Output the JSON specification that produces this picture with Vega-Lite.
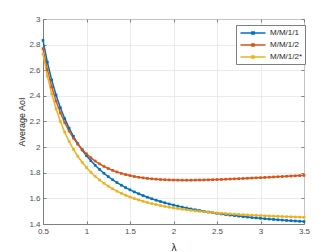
{
  "$schema": "https://vega.github.io/schema/vega-lite/v6.json",
  "width": 261,
  "height": 205,
  "autosize": {"type": "none"},
  "padding": {"left": 43, "top": 19, "right": 32, "bottom": 28},
  "background": "white",
  "config": {
    "font": "Liberation Sans",
    "view": {"stroke": "#7f7f7f", "strokeWidth": 1},
    "axis": {
      "labelFont": "Liberation Sans",
      "titleFont": "Liberation Sans",
      "labelFontSize": 8,
      "labelColor": "#4d4d4d",
      "titleColor": "#262626",
      "titleFontWeight": "normal",
      "titleFontSize": 9,
      "domainColor": "#7f7f7f",
      "tickColor": "#7f7f7f",
      "gridColor": "#e3e3e3",
      "gridWidth": 0.7,
      "tickSize": -3,
      "labelPadding": 6,
      "labelFlush": false
    },
    "legend": {
      "labelFont": "Liberation Sans",
      "labelFontSize": 8,
      "labelColor": "#262626"
    }
  },
  "data": {
    "values": [
      {"l": 0.5, "M/M/1/1": 2.8333, "M/M/1/2": 2.7692, "M/M/1/2*": 2.7276},
      {"l": 0.55, "M/M/1/1": 2.6637, "M/M/1/2": 2.6043, "M/M/1/2*": 2.5563},
      {"l": 0.6, "M/M/1/1": 2.5238, "M/M/1/2": 2.4701, "M/M/1/2*": 2.4157},
      {"l": 0.65, "M/M/1/1": 2.4067, "M/M/1/2": 2.3596, "M/M/1/2*": 2.2986},
      {"l": 0.7, "M/M/1/1": 2.3074, "M/M/1/2": 2.2676, "M/M/1/2*": 2.2001},
      {"l": 0.75, "M/M/1/1": 2.2222, "M/M/1/2": 2.1905, "M/M/1/2*": 2.1164},
      {"l": 0.8, "M/M/1/1": 2.1486, "M/M/1/2": 2.1253, "M/M/1/2*": 2.0447},
      {"l": 0.85, "M/M/1/1": 2.0843, "M/M/1/2": 2.0699, "M/M/1/2*": 1.9827},
      {"l": 0.9, "M/M/1/1": 2.0278, "M/M/1/2": 2.0227, "M/M/1/2*": 1.9289},
      {"l": 0.95, "M/M/1/1": 1.9778, "M/M/1/2": 1.9822, "M/M/1/2*": 1.8820},
      {"l": 1.0, "M/M/1/1": 1.9333, "M/M/1/2": 1.9474, "M/M/1/2*": 1.8407},
      {"l": 1.05, "M/M/1/1": 1.8936, "M/M/1/2": 1.9174, "M/M/1/2*": 1.8043},
      {"l": 1.1, "M/M/1/1": 1.8578, "M/M/1/2": 1.8915, "M/M/1/2*": 1.7722},
      {"l": 1.15, "M/M/1/1": 1.8255, "M/M/1/2": 1.8691, "M/M/1/2*": 1.7435},
      {"l": 1.2, "M/M/1/1": 1.7963, "M/M/1/2": 1.8497, "M/M/1/2*": 1.7180},
      {"l": 1.25, "M/M/1/1": 1.7697, "M/M/1/2": 1.8330, "M/M/1/2*": 1.6952},
      {"l": 1.3, "M/M/1/1": 1.7454, "M/M/1/2": 1.8185, "M/M/1/2*": 1.6748},
      {"l": 1.35, "M/M/1/1": 1.7232, "M/M/1/2": 1.8059, "M/M/1/2*": 1.6564},
      {"l": 1.4, "M/M/1/1": 1.7028, "M/M/1/2": 1.7951, "M/M/1/2*": 1.6397},
      {"l": 1.45, "M/M/1/1": 1.6840, "M/M/1/2": 1.7858, "M/M/1/2*": 1.6247},
      {"l": 1.5, "M/M/1/1": 1.6667, "M/M/1/2": 1.7778, "M/M/1/2*": 1.6111},
      {"l": 1.55, "M/M/1/1": 1.6506, "M/M/1/2": 1.7709, "M/M/1/2*": 1.5988},
      {"l": 1.6, "M/M/1/1": 1.6358, "M/M/1/2": 1.7651, "M/M/1/2*": 1.5875},
      {"l": 1.65, "M/M/1/1": 1.6219, "M/M/1/2": 1.7601, "M/M/1/2*": 1.5772},
      {"l": 1.7, "M/M/1/1": 1.6091, "M/M/1/2": 1.7560, "M/M/1/2*": 1.5678},
      {"l": 1.75, "M/M/1/1": 1.5971, "M/M/1/2": 1.7525, "M/M/1/2*": 1.5592},
      {"l": 1.8, "M/M/1/1": 1.5859, "M/M/1/2": 1.7497, "M/M/1/2*": 1.5514},
      {"l": 1.85, "M/M/1/1": 1.5754, "M/M/1/2": 1.7474, "M/M/1/2*": 1.5441},
      {"l": 1.9, "M/M/1/1": 1.5655, "M/M/1/2": 1.7456, "M/M/1/2*": 1.5374},
      {"l": 1.95, "M/M/1/1": 1.5563, "M/M/1/2": 1.7442, "M/M/1/2*": 1.5313},
      {"l": 2.0, "M/M/1/1": 1.5476, "M/M/1/2": 1.7432, "M/M/1/2*": 1.5256},
      {"l": 2.05, "M/M/1/1": 1.5395, "M/M/1/2": 1.7426, "M/M/1/2*": 1.5203},
      {"l": 2.1, "M/M/1/1": 1.5317, "M/M/1/2": 1.7423, "M/M/1/2*": 1.5154},
      {"l": 2.15, "M/M/1/1": 1.5245, "M/M/1/2": 1.7422, "M/M/1/2*": 1.5109},
      {"l": 2.2, "M/M/1/1": 1.5176, "M/M/1/2": 1.7423, "M/M/1/2*": 1.5066},
      {"l": 2.25, "M/M/1/1": 1.5111, "M/M/1/2": 1.7427, "M/M/1/2*": 1.5027},
      {"l": 2.3, "M/M/1/1": 1.5050, "M/M/1/2": 1.7433, "M/M/1/2*": 1.4990},
      {"l": 2.35, "M/M/1/1": 1.4991, "M/M/1/2": 1.7440, "M/M/1/2*": 1.4956},
      {"l": 2.4, "M/M/1/1": 1.4936, "M/M/1/2": 1.7448, "M/M/1/2*": 1.4924},
      {"l": 2.45, "M/M/1/1": 1.4883, "M/M/1/2": 1.7458, "M/M/1/2*": 1.4894},
      {"l": 2.5, "M/M/1/1": 1.4833, "M/M/1/2": 1.7469, "M/M/1/2*": 1.4865},
      {"l": 2.55, "M/M/1/1": 1.4786, "M/M/1/2": 1.7482, "M/M/1/2*": 1.4839},
      {"l": 2.6, "M/M/1/1": 1.4741, "M/M/1/2": 1.7495, "M/M/1/2*": 1.4814},
      {"l": 2.65, "M/M/1/1": 1.4697, "M/M/1/2": 1.7508, "M/M/1/2*": 1.4790},
      {"l": 2.7, "M/M/1/1": 1.4656, "M/M/1/2": 1.7523, "M/M/1/2*": 1.4768},
      {"l": 2.75, "M/M/1/1": 1.4617, "M/M/1/2": 1.7538, "M/M/1/2*": 1.4747},
      {"l": 2.8, "M/M/1/1": 1.4579, "M/M/1/2": 1.7553, "M/M/1/2*": 1.4727},
      {"l": 2.85, "M/M/1/1": 1.4543, "M/M/1/2": 1.7569, "M/M/1/2*": 1.4708},
      {"l": 2.9, "M/M/1/1": 1.4509, "M/M/1/2": 1.7586, "M/M/1/2*": 1.4690},
      {"l": 2.95, "M/M/1/1": 1.4476, "M/M/1/2": 1.7602, "M/M/1/2*": 1.4672},
      {"l": 3.0, "M/M/1/1": 1.4444, "M/M/1/2": 1.7619, "M/M/1/2*": 1.4656},
      {"l": 3.05, "M/M/1/1": 1.4414, "M/M/1/2": 1.7636, "M/M/1/2*": 1.4641},
      {"l": 3.1, "M/M/1/1": 1.4385, "M/M/1/2": 1.7653, "M/M/1/2*": 1.4626},
      {"l": 3.15, "M/M/1/1": 1.4357, "M/M/1/2": 1.7671, "M/M/1/2*": 1.4612},
      {"l": 3.2, "M/M/1/1": 1.4331, "M/M/1/2": 1.7688, "M/M/1/2*": 1.4598},
      {"l": 3.25, "M/M/1/1": 1.4305, "M/M/1/2": 1.7706, "M/M/1/2*": 1.4585},
      {"l": 3.3, "M/M/1/1": 1.4280, "M/M/1/2": 1.7724, "M/M/1/2*": 1.4573},
      {"l": 3.35, "M/M/1/1": 1.4257, "M/M/1/2": 1.7741, "M/M/1/2*": 1.4561},
      {"l": 3.4, "M/M/1/1": 1.4234, "M/M/1/2": 1.7759, "M/M/1/2*": 1.4549},
      {"l": 3.45, "M/M/1/1": 1.4212, "M/M/1/2": 1.7776, "M/M/1/2*": 1.4538},
      {"l": 3.5, "M/M/1/1": 1.4190, "M/M/1/2": 1.7794, "M/M/1/2*": 1.4527}
    ]
  },
  "transform": [
    {"fold": ["M/M/1/1", "M/M/1/2", "M/M/1/2*"], "as": ["series", "aoi"]}
  ],
  "layer": [
    {
      "mark": {"type": "line", "strokeWidth": 1.5, "point": {"shape": "square", "size": 7, "filled": true}},
      "encoding": {
        "x": {
          "field": "l", "type": "quantitative",
          "scale": {"domain": [0.5, 3.5], "nice": false, "zero": false},
          "axis": {"title": "λ", "values": [0.5, 1, 1.5, 2, 2.5, 3, 3.5], "format": "~g", "titlePadding": 7, "titleFontSize": 10}
        },
        "y": {
          "field": "aoi", "type": "quantitative",
          "scale": {"domain": [1.4, 3], "nice": false, "zero": false},
          "axis": {"title": "Average AoI", "values": [1.4, 1.6, 1.8, 2, 2.2, 2.4, 2.6, 2.8, 3], "format": "~g", "titlePadding": 2}
        },
        "color": {
          "field": "series", "type": "nominal",
          "scale": {"domain": ["M/M/1/1", "M/M/1/2", "M/M/1/2*"], "range": ["#0072BD", "#D95319", "#EDB120"]},
          "legend": {
            "title": null,
            "orient": "none",
            "legendX": 193,
            "legendY": 6,
            "fillColor": "white",
            "strokeColor": "#7f7f7f",
            "padding": 2,
            "rowPadding": 1,
            "symbolType": "M-2.5,0H2.5M-0.22,-0.22H0.22V0.22H-0.22Z",
            "symbolSize": 100,
            "symbolOffset": 9,
            "symbolStrokeWidth": 1.5,
            "labelOffset": 11
          }
        }
      }
    },
    {
      "mark": {"type": "point", "opacity": 0},
      "encoding": {
        "x": {
          "field": "l", "type": "quantitative",
          "axis": {"orient": "top", "labels": false, "title": null, "grid": false, "domain": false, "values": [0.5, 1, 1.5, 2, 2.5, 3, 3.5]}
        },
        "y": {
          "field": "aoi", "type": "quantitative",
          "axis": {"orient": "right", "labels": false, "title": null, "grid": false, "domain": false, "values": [1.4, 1.6, 1.8, 2, 2.2, 2.4, 2.6, 2.8, 3]}
        }
      }
    }
  ],
  "resolve": {"axis": {"x": "independent", "y": "independent"}}
}
